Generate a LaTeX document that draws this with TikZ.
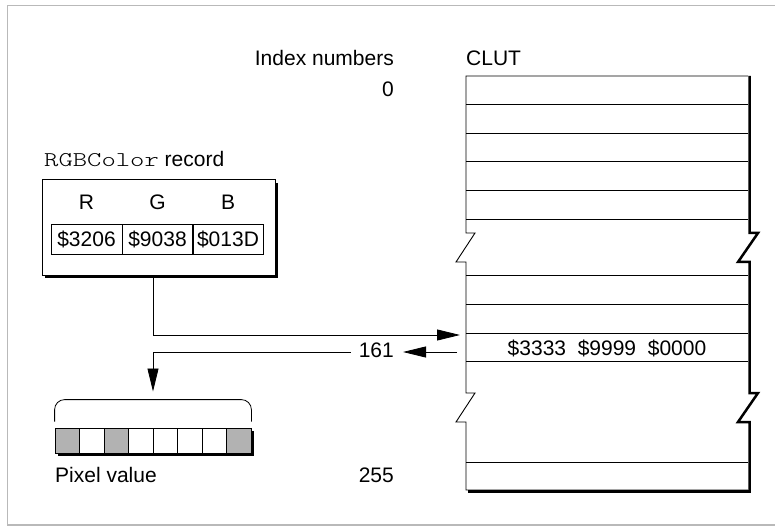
\documentclass[tikz,border=0pt]{standalone}
\usepackage{fontspec}
\setmainfont{Liberation Sans}
\newfontfamily\codefont{Latin Modern Mono Light}[FakeStretch=1.3]
\usepackage{tikz}
\usetikzlibrary{arrows.meta, shadows}
\definecolor{framegray}{RGB}{185, 185, 185}
\definecolor{pixgray}{RGB}{178, 178, 178}

\begin{document}
\begin{tikzpicture}[x=1pt, y=-1pt,
        lbl/.style={inner sep=0pt, font=\fontsize{21}{25}\selectfont},
        record/.style={draw, fill=white, line width=1pt, minimum width=233pt, minimum height=95pt,
            drop shadow={shadow xshift=3pt, shadow yshift=-3pt, fill=black, opacity=1}},
        valcell/.style={draw, line width=0.8pt, minimum width=71pt, minimum height=30pt, inner sep=0pt, font=\fontsize{21}{25}\selectfont},
        pixbox/.style={draw, fill=white, line width=1pt, minimum width=196pt, minimum height=25pt,
            drop shadow={shadow xshift=3pt, shadow yshift=-3pt, fill=black, opacity=1}},
        pixcell/.style={draw, line width=0.8pt, minimum width=24.5pt, minimum height=25pt, inner sep=0pt},
        tabline/.style={line width=0.9pt},
        link/.style={line width=0.8pt, -{Triangle[length=23pt, width=11pt]}}
    ]
        \useasboundingbox (0,0) rectangle (775,526);
        \draw[framegray, line width=1.5pt] (776,5.5) -- (7.5,5.5) -- (7.5,525) -- (776,525);

        % headings and index numbers
        \node[lbl, anchor=base east] (idxhead) at (394,66) {Index numbers};
        \node[lbl, anchor=base west] (cluthead) at (466,66) {CLUT};
        \node[lbl, anchor=base east] (idx0) at (394,96.5) {0};
        \node[lbl, anchor=base east] (idx161) at (394,357) {161};
        \node[lbl, anchor=base east] (idx255) at (394,482) {255};

        % RGBColor record
        \node[lbl, anchor=base west] (rgbhead) at (44,166.5) {{\fontsize{21}{25}\selectfont\codefont RGBColor} record};
        \node[record] (rgb) at (158.5,227.5) {};
        \node[lbl, anchor=base] (r) at (86.5,210) {R};
        \node[lbl, anchor=base] (g) at (157.5,210) {G};
        \node[lbl, anchor=base] (b) at (228,210) {B};
        \node[valcell] (v1) at (86.5,239) {\$3206};
        \node[valcell] (v2) at (157.5,239) {\$9038};
        \node[valcell] (v3) at (228,239) {\$013D};

        % CLUT
        \foreach \y in {104.5,133,161.5,190,219,275,304,333,361,462}
            \draw[tabline] (466,\y) -- (748,\y);
        \draw[tabline] (748,76) -- (466,76) -- (466,233) -- (475,233) -- (456,262) -- (466,262)
            -- (466,393) -- (475,393) -- (456,422) -- (466,422) -- (466,490) -- (748,490);
        \draw[line width=2.5pt] (749.5,76) -- (749.5,233) -- (758,233) -- (738,262) -- (749.5,262)
            -- (749.5,393) -- (758,393) -- (738,422) -- (749.5,422) -- (749.5,492.5);
        \draw[line width=2.5pt] (468,491.5) -- (750.5,491.5);
        \node[lbl, anchor=base] (entry) at (607,355) {\$3333~~\$9999~~\$0000};
        \coordinate (clutin) at (460,335);
        \coordinate (clutout) at (457,352);

        % pixel value
        \node[pixbox] (pixbar) at (153,440.5) {};
        \foreach \i/\c in {1/pixgray,2/white,3/pixgray,4/white,5/white,6/white,7/white,8/pixgray}
            \node[pixcell, fill=\c] (p\i) at ({42.75+24.5*\i},440.5) {};
        \draw[line width=0.8pt, rounded corners=10pt] ([yshift=6pt]p1.north west) |- ([yshift=28pt]p8.north east) -- ([yshift=6pt]p8.north east);
        \node[lbl, anchor=base west] (pixlabel) at (55,482) {Pixel value};

        % connectors
        \draw[link] (pixbar.north |- rgb.south) |- (clutin);
        \draw[link, shorten >=9pt] (clutout) -- (clutout -| idx161.east);
        \draw[link, shorten <=8pt, shorten >=36pt] (clutout -| idx161.west) -| (pixbar.north);
    \end{tikzpicture}
\end{document}
